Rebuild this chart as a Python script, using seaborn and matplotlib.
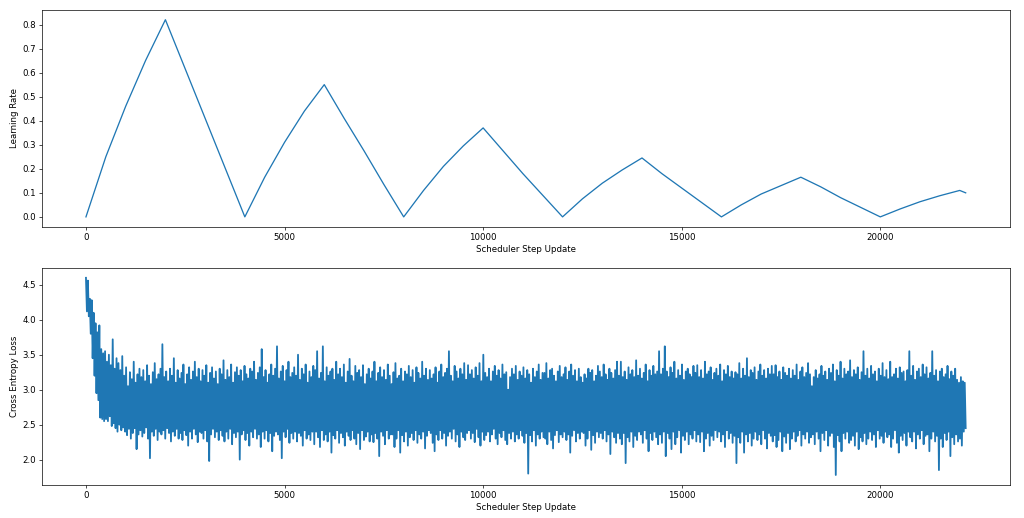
import matplotlib
matplotlib.use("Agg")
import matplotlib.pyplot as plt
from matplotlib.ticker import MultipleLocator
import numpy as np
import pandas as pd
import seaborn as sb

# learning rate, read every 500 scheduler steps
lr_steps = [0, 500, 1000, 1500, 2000, 2500, 3000, 3500, 4000,
            4500, 5000, 5500, 6000, 6500, 7000, 7500, 8000,
            8500, 9000, 9500, 10000, 10500, 11000, 11500, 12000,
            12500, 13000, 13500, 14000, 14500, 15000, 15500, 16000,
            16500, 17000, 17500, 18000, 18500, 19000, 19500, 20000,
            20500, 21000, 21500, 22000, 22150]
lr_values = [0.0, 0.25, 0.46, 0.65, 0.82, 0.615, 0.41, 0.205, 0.0,
             0.165, 0.31, 0.44, 0.55, 0.41, 0.275, 0.135, 0.0,
             0.11, 0.21, 0.295, 0.37, 0.275, 0.18, 0.09, 0.0,
             0.075, 0.14, 0.195, 0.245, 0.18, 0.12, 0.06, 0.0,
             0.05, 0.095, 0.13, 0.165, 0.125, 0.08, 0.04, 0.0,
             0.033, 0.063, 0.088, 0.11, 0.10]

# cross entropy loss, rough read of the noisy band (high/low pairs, ~480 steps per row)
loss_values = [
    4.60, 4.12, 4.56, 4.05, 4.30, 3.80, 4.28, 3.45, 4.10, 3.20, 3.95, 2.95, 3.82, 2.85, 3.92, 2.60, 3.58, 2.58, 3.52, 2.55,
    3.55, 2.58, 3.40, 2.55, 3.50, 2.62, 3.35, 2.48, 3.72, 2.52, 3.30, 2.45, 3.45, 2.40, 3.38, 2.50, 3.28, 2.42, 3.48, 2.46,
    3.20, 2.40, 3.32, 2.35, 3.05, 2.44, 3.25, 2.30, 3.15, 2.38, 3.40, 2.45, 3.10, 2.15, 3.22, 2.36, 3.30, 2.42, 3.18, 2.33,
    3.28, 2.38, 3.12, 2.46, 3.35, 2.30, 3.20, 2.02, 3.08, 2.40, 3.25, 2.34, 3.38, 2.44, 3.15, 2.28, 3.22, 2.40, 3.30, 2.36,
    3.65, 2.42, 3.18, 2.30, 3.26, 2.45, 3.12, 2.38, 3.30, 2.26, 3.20, 2.40, 3.45, 2.34, 3.10, 2.44, 3.28, 2.30, 3.16, 2.38,
    3.24, 2.28, 3.36, 2.42, 3.08, 2.35, 3.22, 2.20, 3.32, 2.40, 3.14, 2.30, 3.26, 2.44, 3.40, 2.36, 3.18, 2.25, 3.30, 2.40,
    3.12, 2.38, 3.28, 2.30, 3.20, 2.42, 3.35, 2.26, 3.10, 1.98, 3.24, 2.36, 3.32, 2.44, 3.16, 2.32, 3.26, 2.40, 3.08, 2.28,
    3.30, 2.42, 3.22, 2.34, 3.42, 2.26, 3.14, 2.40, 3.28, 2.30, 3.18, 2.44, 3.36, 2.22, 3.10, 2.38, 3.25, 2.32, 3.32, 2.40,
    3.20, 2.00, 3.28, 2.36, 3.12, 2.42, 3.34, 2.28, 3.22, 2.38, 3.16, 2.20, 3.30, 2.40, 3.26, 2.32, 3.40, 2.44, 3.14, 2.30,
    3.24, 2.36, 3.32, 2.18, 3.58, 2.40, 3.18, 2.30, 3.28, 2.42, 3.10, 2.26, 3.22, 2.38, 3.36, 2.12, 3.20, 2.34, 3.30, 2.40,
    3.62, 2.36, 3.16, 2.28, 3.26, 2.02, 3.34, 2.40, 3.12, 2.32, 3.28, 2.44, 3.40, 2.24, 3.18, 2.38, 3.24, 2.30, 3.32, 2.40,
    3.20, 2.26, 3.50, 2.38, 3.14, 2.34, 3.30, 2.20, 3.22, 2.42, 3.36, 2.30, 3.10, 2.36, 3.26, 2.28, 3.18, 2.40, 3.34, 2.22,
    3.28, 2.40, 3.55, 2.32, 3.16, 2.18, 3.24, 2.42, 3.62, 2.28, 3.12, 2.36, 3.32, 2.26, 3.20, 2.40, 3.26, 2.10, 3.30, 2.35,
    3.14, 2.30, 3.40, 2.42, 3.22, 2.24, 3.30, 2.38, 3.18, 2.32, 3.36, 2.20, 3.10, 2.40, 3.26, 2.34, 3.44, 2.28, 3.20, 2.42,
    3.12, 2.30, 3.34, 2.22, 3.24, 2.38, 3.28, 2.15, 3.18, 2.42, 3.35, 2.28, 3.08, 2.33, 3.22, 2.40, 3.30, 2.26, 3.16, 2.36,
    3.26, 2.25, 3.40, 2.38, 3.12, 2.30, 3.24, 2.05, 3.32, 2.40, 3.18, 2.34, 3.28, 2.22, 3.14, 2.42, 3.36, 2.30, 3.20, 2.36,
    3.08, 2.36, 3.25, 2.18, 3.38, 2.30, 3.16, 2.42, 3.20, 2.10, 3.30, 2.35, 3.12, 2.26, 3.26, 2.40, 3.22, 2.20, 3.34, 2.32,
    3.18, 2.38, 3.28, 2.28, 3.10, 2.42, 3.32, 2.24, 3.24, 2.36, 3.16, 2.30, 3.40, 2.40, 3.20, 2.16, 3.30, 2.34, 3.14, 2.42,
    3.28, 2.38, 3.16, 2.24, 3.22, 2.12, 3.32, 2.36, 3.10, 2.28, 3.26, 2.42, 3.36, 2.30, 3.18, 2.38, 3.24, 2.20, 3.30, 2.34,
    3.55, 2.40, 3.20, 2.30, 3.12, 2.44, 3.34, 2.26, 3.26, 2.36, 3.16, 2.18, 3.30, 2.40, 3.22, 2.32, 3.38, 2.28, 3.14, 2.38,
    3.35, 2.42, 3.22, 2.30, 3.28, 2.38, 3.16, 2.25, 3.32, 2.44, 3.20, 2.32, 3.38, 2.20, 3.12, 2.40, 3.50, 2.28, 3.24, 2.35,
    3.18, 2.40, 3.30, 2.26, 3.12, 2.36, 3.26, 2.44, 3.34, 2.30, 3.20, 2.22, 3.28, 2.38, 3.16, 2.32, 3.36, 2.42, 3.22, 2.28,
    3.25, 2.22, 3.00, 2.38, 3.18, 2.30, 3.30, 2.40, 3.22, 2.26, 3.34, 2.36, 3.14, 2.30, 3.26, 2.42, 3.20, 2.34, 3.32, 2.24,
    3.16, 2.38, 3.28, 1.80, 3.22, 2.35, 3.10, 2.26, 3.30, 2.42, 3.18, 2.20, 3.26, 2.36, 3.36, 2.30, 3.14, 2.40, 3.24, 2.32,
    3.24, 2.30, 3.38, 2.22, 3.16, 2.40, 3.28, 2.28, 3.30, 2.16, 3.20, 2.35, 3.12, 2.42, 3.26, 2.25, 3.34, 2.36, 3.18, 2.32,
    3.22, 2.40, 3.32, 2.28, 3.14, 2.36, 3.26, 2.10, 3.36, 2.34, 3.20, 2.42, 3.28, 2.26, 3.12, 2.38, 3.30, 2.30, 3.18, 2.40,
    3.10, 2.38, 3.22, 2.20, 3.16, 2.30, 3.30, 2.42, 3.24, 2.14, 3.28, 2.35, 3.12, 2.24, 3.20, 2.40, 3.34, 2.32, 3.26, 2.38,
    3.18, 2.30, 3.36, 2.42, 3.22, 2.26, 3.14, 2.36, 3.30, 2.08, 3.24, 2.40, 3.16, 2.32, 3.28, 2.24, 3.40, 2.38, 3.20, 2.30,
    3.40, 2.22, 3.18, 2.38, 3.26, 1.95, 3.14, 2.32, 3.32, 2.26, 3.22, 2.40, 3.28, 2.18, 3.18, 2.34, 3.42, 2.28, 3.20, 2.40,
    3.30, 2.36, 3.16, 2.24, 3.24, 2.42, 3.36, 2.30, 3.12, 2.12, 3.28, 2.38, 3.20, 2.28, 3.34, 2.40, 3.22, 2.32, 3.26, 2.22,
    3.55, 2.36, 3.22, 2.24, 3.30, 2.40, 3.62, 2.05, 3.26, 2.38, 3.18, 2.30, 3.32, 2.15, 3.24, 2.40, 3.40, 2.22, 3.16, 2.32,
    3.28, 2.42, 3.20, 2.10, 3.36, 2.34, 3.14, 2.28, 3.26, 2.40, 3.30, 2.22, 3.22, 2.36, 3.18, 2.30, 3.34, 2.42, 3.24, 2.26,
    3.35, 2.36, 3.18, 2.25, 3.28, 2.40, 3.16, 2.12, 3.40, 2.30, 3.22, 2.38, 3.26, 2.20, 3.32, 2.34, 3.14, 2.28, 3.24, 2.42,
    3.30, 2.32, 3.20, 2.40, 3.36, 2.26, 3.12, 2.36, 3.28, 2.18, 3.22, 2.42, 3.34, 2.30, 3.18, 2.38, 3.26, 2.24, 3.16, 2.34,
    3.25, 1.95, 3.22, 2.32, 3.38, 2.24, 3.16, 2.40, 3.30, 2.10, 3.20, 2.36, 3.45, 2.26, 3.18, 2.38, 3.28, 2.20, 3.24, 2.30,
    3.32, 2.40, 3.14, 2.28, 3.26, 2.36, 3.36, 2.22, 3.20, 2.42, 3.28, 2.30, 3.16, 2.16, 3.30, 2.38, 3.22, 2.34, 3.34, 2.26,
    3.22, 2.35, 3.35, 2.18, 3.18, 2.28, 3.26, 2.40, 3.14, 2.12, 3.32, 2.33, 3.24, 2.24, 3.20, 2.38, 3.30, 2.15, 3.16, 2.30,
    3.28, 2.40, 3.20, 2.26, 3.36, 2.34, 3.14, 2.42, 3.26, 2.20, 3.32, 2.36, 3.18, 2.30, 3.24, 2.40, 3.38, 2.24, 3.22, 2.32,
    3.05, 2.36, 3.18, 2.22, 3.28, 2.40, 3.16, 2.30, 3.22, 2.12, 3.34, 2.38, 3.20, 2.28, 3.26, 2.42, 3.14, 2.20, 3.30, 2.34,
    3.24, 2.38, 3.36, 2.18, 3.12, 1.78, 3.28, 2.35, 3.20, 2.26, 3.40, 2.12, 3.16, 2.38, 3.30, 2.30, 3.22, 2.40, 3.26, 2.24,
    3.42, 2.28, 3.18, 2.34, 3.28, 2.20, 3.22, 2.40, 3.32, 2.15, 3.14, 2.32, 3.25, 2.26, 3.55, 2.38, 3.20, 2.22, 3.30, 2.30,
    3.16, 2.40, 3.34, 2.28, 3.22, 2.36, 3.26, 2.18, 3.12, 2.42, 3.30, 2.30, 3.20, 2.34, 3.38, 2.24, 3.18, 2.40, 3.28, 2.32,
    3.15, 2.36, 3.40, 2.18, 3.18, 2.30, 3.22, 2.42, 3.30, 2.24, 3.16, 2.10, 3.32, 2.34, 3.24, 2.28, 3.26, 2.38, 3.12, 2.20,
    3.28, 2.40, 3.55, 2.32, 3.20, 2.26, 3.34, 2.40, 3.14, 2.16, 3.26, 2.36, 3.30, 2.30, 3.18, 2.42, 3.36, 2.22, 3.22, 2.34,
    3.32, 2.36, 3.16, 2.12, 3.24, 2.30, 3.55, 2.40, 3.20, 2.26, 3.28, 2.34, 3.12, 1.85, 3.26, 2.30, 3.30, 2.18, 3.18, 2.38,
    3.22, 2.28, 3.34, 2.40, 3.15, 2.05, 3.26, 2.32, 3.20, 2.22, 3.30, 2.36, 3.14, 2.26, 3.10, 2.30, 3.18, 2.20, 3.12, 2.40,
    3.10, 2.45,
]
last_step = 22150

lr_df = pd.DataFrame({"step": lr_steps, "lr": lr_values})
loss_df = pd.DataFrame({"step": np.linspace(0, last_step, len(loss_values)),
                        "loss": loss_values})

# the original was drawn with matplotlib defaults and shrunk, ~62 px per inch
dpi = 62
fig, (ax1, ax2) = plt.subplots(2, 1, figsize=(1024 / dpi, 518 / dpi), dpi=dpi)
fig.subplots_adjust(left=0.041, right=0.986, top=0.981, bottom=0.064, hspace=0.19)

sb.lineplot(x="step", y="lr", data=lr_df, ax=ax1, color="#1f77b4",
            linewidth=1.5, estimator=None)
ax1.set_xlabel("Scheduler Step Update")
ax1.set_ylabel("Learning Rate")
ax1.yaxis.set_major_locator(MultipleLocator(0.1))

sb.lineplot(x="step", y="loss", data=loss_df, ax=ax2, color="#1f77b4",
            linewidth=2.1, estimator=None)
ax2.set_xlabel("Scheduler Step Update")
ax2.set_ylabel("Cross Entropy Loss")

fig.savefig("out.png", dpi=dpi)
